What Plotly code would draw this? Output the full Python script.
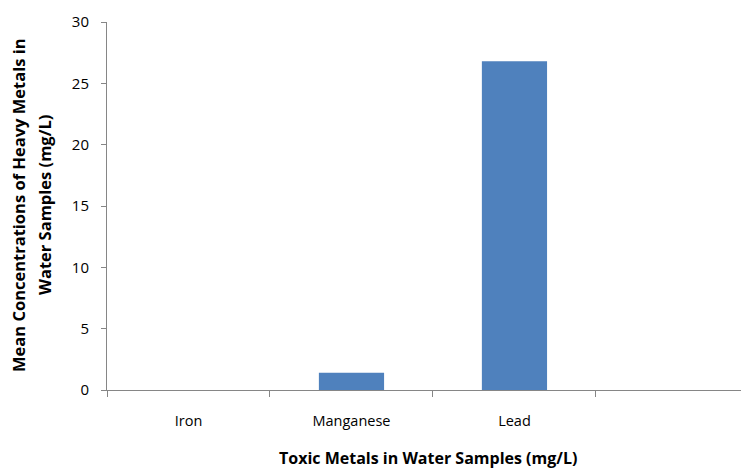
import plotly.graph_objects as go

categories = ["Iron", "Manganese", "Lead", " "]
values = [0, 1.4, 26.8, None]
y_ticks = [0, 5, 10, 15, 20, 25, 30]
x_title = "Toxic Metals in Water Samples (mg/L)"
y_title_lines = ["Mean Concentrations of Heavy Metals in", "Water Samples (mg/L)"]

FONT = "Open Sans"
AXIS = "#868686"
OFF = 8  # default page body margin
W, H = 749 - OFF, 469 - OFF
L, R, T, B = 107 - OFF, 0, 22 - OFF, 79
PW, PH = W - L - R, H - T - B

fig = go.Figure(go.Bar(x=categories, y=values, marker=dict(color="#4F81BD", line=dict(width=0)), width=0.4))

fig.update_layout(
    width=W, height=H,
    margin=dict(l=L, r=R, t=T, b=B, autoexpand=False),
    paper_bgcolor="white", plot_bgcolor="white",
    showlegend=False,
    font=dict(family=FONT, size=14.5, color="#000000"),
)
fig.update_xaxes(
    type="category", range=[-0.5, 3.439], automargin=False,
    showline=True, linecolor=AXIS, linewidth=1,
    ticks="outside", tickson="boundaries", ticklen=6, tickcolor=AXIS,
    showgrid=False, zeroline=False,
    ticklabelstandoff=18,
)
fig.update_yaxes(
    range=[0, 30], tickvals=y_ticks, automargin=False,
    showline=True, linecolor=AXIS, linewidth=1,
    ticks="outside", ticklen=5, tickcolor=AXIS,
    showgrid=False, zeroline=False,
    ticklabelstandoff=9,
    tickfont=dict(size=15),
)

def px_x(px):
    return (px - OFF - L) / PW

def px_y(py):
    return (H - B - (py - OFF)) / PH

fig.add_annotation(text="<b>%s</b>" % x_title, xref="paper", yref="paper",
                   x=px_x(428), y=px_y(458), showarrow=False,
                   font=dict(size=16, family=FONT), xanchor="center", yanchor="middle")
for txt, cx in zip(y_title_lines, [18, 44]):
    fig.add_annotation(text="<b>%s</b>" % txt, xref="paper", yref="paper",
                       x=px_x(cx), y=px_y(205), showarrow=False, textangle=-90,
                       font=dict(size=16.5, family=FONT), xanchor="center", yanchor="middle")

fig.write_html("out.html")
